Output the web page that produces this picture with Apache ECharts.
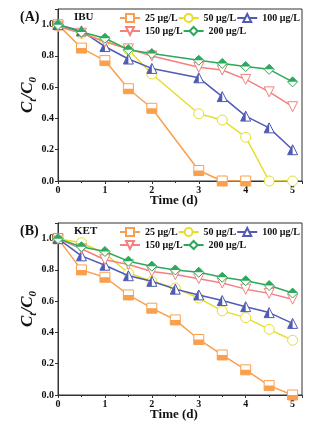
<!DOCTYPE html>
<html><head><meta charset="utf-8">
<script src="https://cdn.jsdelivr.net/npm/echarts@6/dist/echarts.min.js"></script>
<style>html,body{margin:0;padding:0;background:#fff}#c{width:328px;height:428px}</style>
</head><body><div id="c"></div>
<script>
const concLabels = ['25 μg/L', '50 μg/L', '100 μg/L', '150 μg/L', '200 μg/L'];
const daysA = [0, 0.5, 1, 1.5, 2, 3, 3.5, 4, 4.5, 5];
const ibu25 = [1.0, 0.85, 0.77, 0.59, 0.465, 0.067, 0.0, 0.0];
const ibu50 = [0.99, 0.945, 0.895, 0.84, 0.684, 0.43, 0.39, 0.28, 0.0, 0.0];
const ibu100 = [1.0, 0.96, 0.86, 0.78, 0.72, 0.66, 0.54, 0.415, 0.34, 0.2];
const ibu150 = [0.99, 0.945, 0.89, 0.845, 0.8, 0.727, 0.71, 0.65, 0.57, 0.475];
const ibu200 = [1.0, 0.953, 0.913, 0.84, 0.815, 0.772, 0.752, 0.732, 0.714, 0.634];
const daysB = [0, 0.5, 1, 1.5, 2, 2.5, 3, 3.5, 4, 4.5, 5];
const ket25 = [1.0, 0.80, 0.753, 0.64, 0.555, 0.48, 0.355, 0.256, 0.161, 0.06, 0.0];
const ket50 = [1.0, 0.974, 0.905, 0.78, 0.727, 0.684, 0.62, 0.538, 0.495, 0.42, 0.35];
const ket100 = [1.0, 0.89, 0.83, 0.763, 0.727, 0.677, 0.64, 0.604, 0.565, 0.527, 0.458];
const ket150 = [1.0, 0.935, 0.865, 0.835, 0.79, 0.77, 0.744, 0.716, 0.677, 0.65, 0.613];
const ket200 = [1.0, 0.948, 0.918, 0.856, 0.824, 0.8, 0.785, 0.753, 0.731, 0.7, 0.652];
const xTicks = [0, 1, 2, 3, 4, 5];
const yTicks = [0.0, 0.2, 0.4, 0.6, 0.8, 1.0];

const colors = ['#F9A04E', '#E6DE2A', '#4F5BB5', '#F48080', '#2EA85A'];
const outline = ['rect', 'circle', 'path://M5 0 L10 10 L0 10 Z', 'path://M0 0 L10 0 L5 10 Z', 'diamond'];
const halfFill = [
  'path://M0 0 L0 0.01 M10 0 L10 0.01 M0 5 L10 5 L10 10 L0 10 Z',
  null,
  'path://M10 0 L10 0.01 M5 0 L5 10 L0 10 Z',
  null,
  'path://M5 10 L5 9.99 M5 0 L10 5 L0 5 Z'
];
const FONT = '"Liberation Serif", "DejaVu Serif", serif';

function zip(xs, ys) { return ys.map((y, i) => [xs[i], y]); }

const panels = [
  { days: daysA, sets: [ibu25, ibu50, ibu100, ibu150, ibu200], top: 9 },
  { days: daysB, sets: [ket25, ket50, ket100, ket150, ket200], top: 223 }
];

const grids = [], xAxes = [], yAxes = [], series = [];
panels.forEach((p, pi) => {
  grids.push({ left: 58, top: p.top, width: 244, height: 172, show: true, borderColor: '#333', borderWidth: 1, backgroundColor: 'transparent' });
  xAxes.push({
    gridIndex: pi, type: 'value', min: 0, max: 5.2, interval: 1,
    name: 'Time (d)', nameLocation: 'middle', nameGap: 13, nameMoveOverlap: false,
    nameTextStyle: { fontFamily: FONT, fontWeight: 'bold', fontSize: 13, color: '#111', padding: [0, 12, 0, 0] },
    axisLine: { show: true, onZero: false, lineStyle: { color: '#333', width: 1 } },
    axisTick: { show: true, length: 3, lineStyle: { color: '#333' } },
    minorTick: { show: true, splitNumber: 2, length: 2, lineStyle: { color: '#333' } },
    splitLine: { show: false },
    axisLabel: { margin: 4, fontFamily: FONT, fontWeight: 'bold', fontSize: 10, color: '#111',
      formatter: v => xTicks.includes(v) ? String(v) : '' }
  });
  yAxes.push({
    gridIndex: pi, type: 'value', min: 0, max: 1.1, interval: 0.2,
    name: '{i|C}{s|t}{i|/C}{s|0}', nameLocation: 'middle', nameGap: 22, nameMoveOverlap: false,
    nameTextStyle: { rich: {
      i: { fontFamily: FONT, fontWeight: 'bold', fontStyle: 'italic', fontSize: 17, color: '#111', verticalAlign: 'bottom' },
      s: { fontFamily: FONT, fontWeight: 'bold', fontStyle: 'italic', fontSize: 11, color: '#111', verticalAlign: 'bottom', padding: [0, 0, -3, 0] }
    } },
    axisLine: { show: true, onZero: false, lineStyle: { color: '#333', width: 1 } },
    axisTick: { show: true, length: 3, lineStyle: { color: '#333' } },
    minorTick: { show: false },
    splitLine: { show: false },
    axisLabel: { margin: 4, fontFamily: FONT, fontWeight: 'bold', fontSize: 10, color: '#111',
      formatter: v => yTicks.some(t => Math.abs(t - v) < 1e-6) ? v.toFixed(1) : '' }
  });
  p.sets.forEach((vals, si) => {
    const data = zip(p.days, vals);
    series.push({
      name: concLabels[si], type: 'line', xAxisIndex: pi, yAxisIndex: pi, data,
      symbol: outline[si], symbolSize: 10, showSymbol: true, z: 2 + si * 2,
      lineStyle: { color: colors[si], width: 1.5 },
      itemStyle: { color: '#fff', borderColor: colors[si], borderWidth: 1 },
      emphasis: { disabled: true }, animation: false
    });
    if (halfFill[si]) {
      series.push({
        name: concLabels[si] + '_fill', type: 'line', xAxisIndex: pi, yAxisIndex: pi, data,
        symbol: halfFill[si], symbolSize: 10, showSymbol: true, z: 3 + si * 2,
        lineStyle: { width: 0, opacity: 0 },
        itemStyle: { color: colors[si], borderWidth: 0 },
        silent: true, emphasis: { disabled: true }, animation: false
      });
    }
  });
});

const legTxt = { fontFamily: FONT, fontWeight: 'bold', fontSize: 10, color: '#111' };
const legends = [];
panels.forEach((p, pi) => {
  legends.push({ data: concLabels.slice(0, 3), left: 119, top: p.top + 4, itemWidth: 20, itemHeight: 10, itemGap: 0, textStyle: legTxt, selectedMode: false, padding: 0 });
  legends.push({ data: concLabels.slice(3), left: 119, top: p.top + 17, itemWidth: 20, itemHeight: 10, itemGap: 0, textStyle: legTxt, selectedMode: false, padding: 0 });
});

const titleStyle = (s) => ({ fontFamily: FONT, fontWeight: 'bold', fontSize: s, color: '#111' });
const option = {
  backgroundColor: '#fff',
  animation: false,
  title: [
    { text: '(A)', left: 20, top: 10, padding: 0, textStyle: titleStyle(14) },
    { text: 'IBU', left: 74, top: 12, padding: 0, textStyle: titleStyle(11) },
    { text: '(B)', left: 20, top: 224, padding: 0, textStyle: titleStyle(14) },
    { text: 'KET', left: 74, top: 226, padding: 0, textStyle: titleStyle(11) }
  ],
  legend: legends,
  grid: grids, xAxis: xAxes, yAxis: yAxes, series
};
const chart = echarts.init(document.getElementById('c'), null, { renderer: 'canvas' });
chart.setOption(option);
</script></body></html>
